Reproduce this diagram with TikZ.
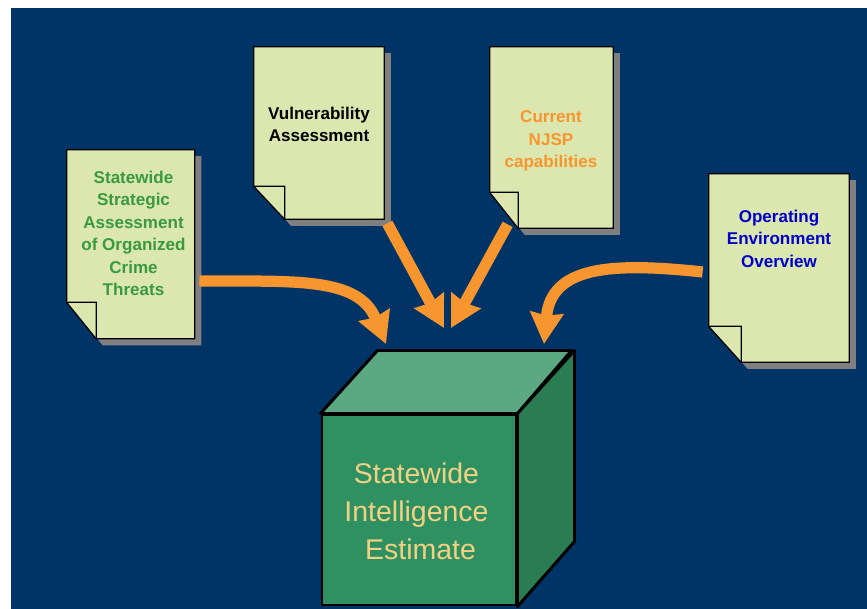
\documentclass[tikz,border=0pt]{standalone}
\usepackage{fontspec}
\setmainfont{Liberation Sans}
\usepackage{tikz}
\usetikzlibrary{arrows.meta}

\definecolor{navy}{HTML}{003366}
\definecolor{paper}{HTML}{DBE7AF}
\definecolor{flowcolor}{HTML}{F7962E}
\definecolor{boxfront}{HTML}{2F9162}
\definecolor{boxtop}{HTML}{5CA883}
\definecolor{boxside}{HTML}{2A7C53}
\definecolor{boxtext}{HTML}{F2D182}
\definecolor{pagegreen}{HTML}{3A9A3F}

\tikzset{
  page/.style={rectangle,inner sep=0pt},
  pagetext/.style={align=center,inner sep=0pt,font=\fontsize{9.7}{12.8}\selectfont\bfseries},
  flow/.style={-{Stealth[length=6.2mm,width=6.5mm,inset=.5mm]},flowcolor,line width=6.4pt},
  boxface/.style={draw=black,line width=1.7pt,line join=round}
}

\begin{document}
\begin{tikzpicture}
\useasboundingbox (0,0) rectangle (17.34,12.18);
\fill [navy] (.22,0) rectangle (17.34,12.02);

\node (P1) at (2.615,7.295) [page,minimum width=25.5mm,minimum height=37.7mm] {};
\node (P2) at (6.38,9.52) [page,minimum width=26mm,minimum height=34.4mm] {};
\node (P3) at (11.03,9.43) [page,minimum width=24.6mm,minimum height=36.2mm] {};
\node (P4) at (15.58,6.82) [page,minimum width=28mm,minimum height=37.6mm] {};

\foreach \p/\fx/\fy in {P1/.59/.73,P2/.62/.66,P3/.57/.72,P4/.65/.72} {
  \fill [gray] ([shift={(.13,-.13)}]\p.north west) -- ([shift={(.13,-.13)}]\p.north east)
    -- ([shift={(.13,-.13)}]\p.south east) -- ([shift={(.13+\fx,-.13)}]\p.south west)
    -- ([shift={(.13,\fy-.13)}]\p.south west) -- cycle;
  \draw [fill=paper,line width=.7pt] (\p.north west) -- (\p.north east) -- (\p.south east)
    -- ([xshift=\fx cm]\p.south west) -- ([yshift=\fy cm]\p.south west) -- cycle;
  \draw [line width=.7pt] ([yshift=\fy cm]\p.south west) -- ([shift={(\fx,\fy)}]\p.south west)
    -- ([xshift=\fx cm]\p.south west);
}

\node (SSA) at (2.67,7.51) [pagetext,text=pagegreen] {Statewide\\Strategic\\Assessment\\of Organized\\Crime\\Threats};
\node (VA) at (6.38,9.69) [pagetext,text=black] {Vulnerability\\Assessment};
\node (NJSP) at (11.02,9.36) [pagetext,text=flowcolor] {Current\\NJSP\\capabilities};
\node (OEO) at (15.58,7.41) [pagetext,text=blue!80!black] {Operating\\Environment\\Overview};

% the box
\node (F) at (8.38,1.98) [boxface,fill=boxfront,minimum width=38.8mm,minimum height=38mm] {};
\draw [boxface,fill=boxtop] (F.north west) -- ++(1.14,1.26) -- ++(3.88,0) -- (F.north east) -- cycle;
\draw [boxface,fill=boxside] (F.north east) -- ++(1.14,1.26) -- ++(0,-3.82) -- (F.south east) -- cycle;
\node (SIE) at (8.33,1.96) [align=center,inner sep=0pt,text=boxtext,font=\fontsize{16.2}{21.6}\selectfont] {Statewide\\Intelligence\\\hspace*{1.6mm}Estimate};

\coordinate (T1) at (7.72,5.3);
\coordinate (T2) at (8.88,5.62);
\coordinate (T3) at (9.02,5.62);
\coordinate (T4) at (10.88,5.3);

\draw [flow] ([shift={(.09,-.735)}]P1.east) .. controls (5.9,6.55) and (7.17,6.65) .. (T1);
\draw [flow] ([shift={(.06,-.08)}]P2.south east) -- (T2);
\draw [flow] ([shift={(.36,.08)}]P3.south west) -- (T3);
\draw [flow] ([shift={(-.12,-.08)}]P4.west) .. controls (12.2,6.94) and (11.02,6.85) .. (T4);
\end{tikzpicture}
\end{document}
